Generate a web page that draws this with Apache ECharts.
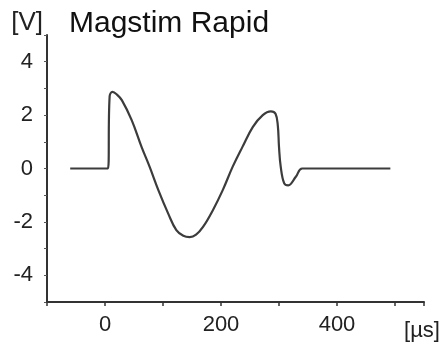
<!DOCTYPE html>
<html>
<head>
<meta charset="utf-8">
<script src="https://cdn.jsdelivr.net/npm/echarts@6/dist/echarts.min.js"></script>
<style>
html,body{margin:0;padding:0;background:#fff;}
#chart{width:446px;height:344px;}
</style>
</head>
<body>
<div id="chart"></div>
<script>
// Pulse waveform
var timeUs = [-60, 5, 8, 13, 20, 29, 46, 63, 77, 92, 109, 123, 135, 146, 157, 169, 186, 203, 220, 237, 255, 272, 286, 294, 298, 300, 303, 309, 316, 329, 340, 400, 492];
var voltV  = [0, 0, 2.7, 2.87, 2.78, 2.56, 1.81, 0.81, 0.06, -0.81, -1.69, -2.31, -2.52, -2.57, -2.48, -2.19, -1.56, -0.81, 0.06, 0.81, 1.56, 2.0, 2.14, 2.05, 1.6, 0.81, 0.06, -0.56, -0.63, -0.31, 0, 0, 0];
var xTickLabels = [0, 200, 400];
var yTickLabels = [-4, -2, 0, 2, 4];
var titleText = 'Magstim Rapid';
var xUnit = '[µs]';
var yUnit = '[V]';

var points = timeUs.map(function (t, i) { return [t, voltV[i]]; });

var chart = echarts.init(document.getElementById('chart'), null, {renderer: 'canvas'});
var font = 'Liberation Sans, Arial, sans-serif';
chart.setOption({
  animation: false,
  backgroundColor: '#fff',
  title: {
    text: titleText,
    left: 64,
    top: 4,
    textStyle: {fontSize: 30, fontWeight: 'normal', color: '#111', fontFamily: font}
  },
  grid: {left: 47, right: 22, top: 35, bottom: 42, containLabel: false},
  xAxis: {
    type: 'value',
    min: -100,
    max: 550,
    interval: 100,
    name: xUnit,
    nameLocation: 'end',
    nameGap: -2,
    nameTextStyle: {fontSize: 22, color: '#222', fontFamily: font, align: 'center', verticalAlign: 'top', padding: [18, 0, 0, 0]},
    axisLine: {onZero: false, lineStyle: {color: '#333', width: 2}},
    axisTick: {show: true, length: 4, lineStyle: {color: '#333', width: 1.5}},
    splitLine: {show: false},
    axisLabel: {
      fontSize: 22, color: '#222', fontFamily: font, margin: 12,
      formatter: function (v) { return xTickLabels.indexOf(v) >= 0 ? String(v) : ''; }
    }
  },
  yAxis: {
    type: 'value',
    min: -5,
    max: 5,
    interval: 1,
    name: yUnit,
    nameLocation: 'end',
    nameGap: 12,
    nameTextStyle: {fontSize: 26, color: '#222', fontFamily: font, align: 'right', verticalAlign: 'middle', padding: [0, 4, 0, 0]},
    axisLine: {show: true, onZero: false, lineStyle: {color: '#333', width: 2}},
    axisTick: {show: true, length: 3, lineStyle: {color: '#555', width: 1}},
    splitLine: {show: false},
    axisLabel: {
      fontSize: 22, color: '#222', fontFamily: font, margin: 14,
      formatter: function (v) { return yTickLabels.indexOf(v) >= 0 ? String(v) : ''; }
    }
  },
  series: [{
    type: 'line',
    data: points,
    showSymbol: false,
    smooth: 0.4,
    lineStyle: {color: '#3c3c3c', width: 2.2}
  }]
});
</script>
</body>
</html>
